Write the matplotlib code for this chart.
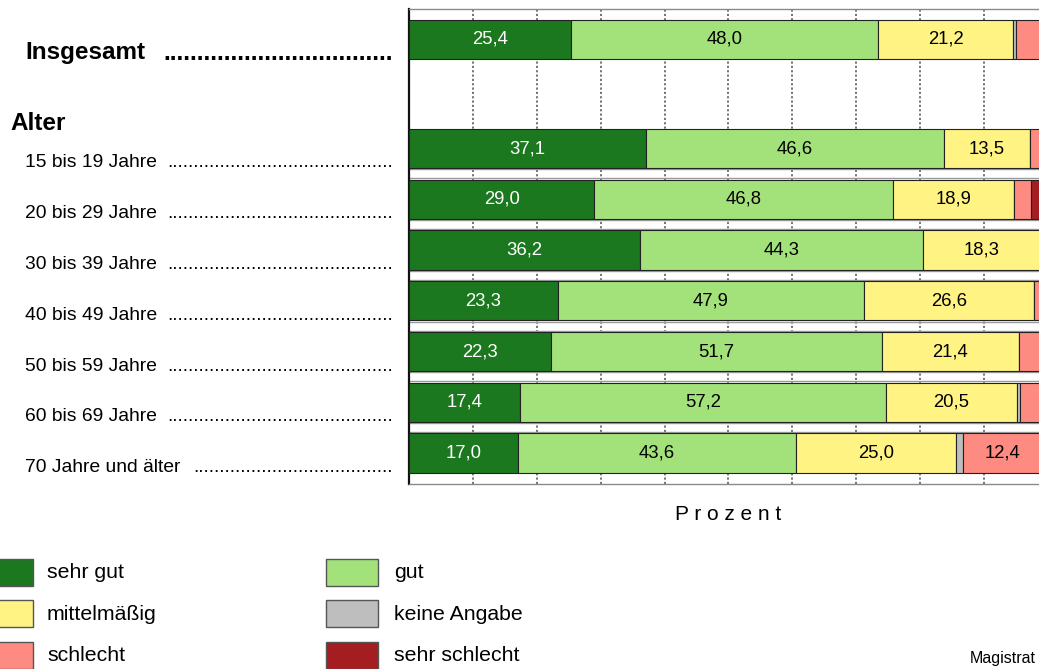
import matplotlib
matplotlib.use('Agg')
import matplotlib.pyplot as plt
from matplotlib.patches import Rectangle

plt.rcParams['font.family'] = ['Liberation Sans', 'DejaVu Sans']

# --- data -------------------------------------------------------------
groups = ['Insgesamt', '15 bis 19 Jahre', '20 bis 29 Jahre', '30 bis 39 Jahre',
          '40 bis 49 Jahre', '50 bis 59 Jahre', '60 bis 69 Jahre',
          '70 Jahre und älter']
categories = ['sehr gut', 'gut', 'mittelmäßig', 'keine Angabe',
              'schlecht', 'sehr schlecht']
sehr_gut = [25.4, 37.1, 29.0, 36.2, 23.3, 22.3, 17.4, 17.0]
gut = [48.0, 46.6, 46.8, 44.3, 47.9, 51.7, 57.2, 43.6]
mittelmaessig = [21.2, 13.5, 18.9, 18.3, 26.6, 21.4, 20.5, 25.0]
keine_angabe = [0.4, 0.0, 0.0, 0.0, 0.0, 0.0, 0.5, 1.1]
schlecht = [4.0, 2.2, 2.6, 1.0, 2.0, 4.0, 4.0, 12.4]
sehr_schlecht = [1.0, 0.6, 2.7, 0.2, 0.2, 0.6, 0.4, 0.9]

series = [sehr_gut, gut, mittelmaessig, keine_angabe, schlecht, sehr_schlecht]
colors = ['#1b781e', '#a3e27a', '#fff383', '#bebebe', '#fd8b82', '#a31d21']
text_colors = ['white', 'black', 'black', 'black', 'black', 'black']

# --- figure geometry (pixels) ------------------------------------------
W, H = 1039, 669
DPI = 100
fig = plt.figure(figsize=(W / DPI, H / DPI), dpi=DPI)


def fx(px):
    return px / W


def fy(py):
    return 1 - py / H


ax_left, ax_right, ax_top, ax_bottom = 409, 1048, 9, 484
ax = fig.add_axes([fx(ax_left), fy(ax_bottom), fx(ax_right - ax_left),
                   (ax_bottom - ax_top) / H])

row_px = 50.75
ypos = [0.0] + [2.148 + i for i in range(len(groups) - 1)]
bar_h = 0.77

left = [0.0] * len(groups)
for vals, col, tcol in zip(series, colors, text_colors):
    cont = ax.barh(ypos, vals, left=left, height=bar_h, color=col,
                   edgecolor='#222222', linewidth=0.8, zorder=3)
    labels = [f'{v:.1f}'.replace('.', ',') if v >= 5 else '' for v in vals]
    ax.bar_label(cont, labels=labels, label_type='center', color=tcol,
                 fontsize=13.3)
    left = [a + b for a, b in zip(left, vals)]

top_lim = 30.5 / row_px
ax.set_ylim((ax_bottom - ax_top) / row_px - top_lim, -top_lim)
ax.set_xlim(0, 100)

# separators between the age rows
off = 1.3 / row_px
for i in range(1, len(ypos) - 1):
    lo = ypos[i] + bar_h / 2 + off
    hi = ypos[i + 1] - bar_h / 2 - off
    ax.axhline(lo, color='#9a9a9a', lw=1.0, zorder=2)
    ax.axhline(hi, color='#9a9a9a', lw=1.0, zorder=2)

ax.set_xticks(range(0, 101, 10))
ax.grid(axis='x', color='#6a6a6a', linestyle=(0, (1.2, 1.2)), lw=1.3,
        zorder=1)
ax.set_axisbelow(True)
ax.tick_params(length=0, labelbottom=False, labelleft=False)
ax.spines['left'].set_color('#111111')
ax.spines['left'].set_linewidth(1.6)
for s in ('top', 'bottom'):
    ax.spines[s].set_color('#8a8a8a')
    ax.spines[s].set_linewidth(1.0)
ax.spines['right'].set_visible(False)

# --- row labels with dotted leaders ------------------------------------
leader_end = 393
row_texts = []
t = fig.text(fx(25), fy(59.5), groups[0], fontsize=17.5, fontweight='bold',
             va='baseline', ha='left')
row_texts.append((t, 59.5, 'bold', 17.5, 14))
fig.text(fx(10), fy(129.5), 'Alter', fontsize=17.5, fontweight='bold',
         va='baseline', ha='left')
for i, g in enumerate(groups[1:]):
    base = 167.3 + 50.8 * i
    t = fig.text(fx(25), fy(base), g, fontsize=13.9, va='baseline',
                 ha='left')
    row_texts.append((t, base, 'normal', 13.9, 9))

fig.canvas.draw()
renderer = fig.canvas.get_renderer()
for t, base, weight, size, gap in row_texts:
    probe = fig.text(0, 0, '.' * 20, fontsize=size, fontweight=weight)
    pw = probe.get_window_extent(renderer).width / 20
    probe.remove()
    end = t.get_window_extent(renderer).x1
    n = int((leader_end - end - gap) / pw)
    fig.text(fx(leader_end), fy(base), '.' * n, fontsize=size,
             fontweight=weight, va='baseline', ha='right')

# --- axis caption -------------------------------------------------------
fig.text(fx((ax_left + ax_right) / 2), fy(515), 'P r o z e n t',
         fontsize=15, ha='center', va='center')

# --- legend -------------------------------------------------------------
legend_cols = [(-19, 47), (326, 394)]
legend_rows = [558.5, 600.2, 641.9]
order = [0, 2, 4, 1, 3, 5]
for k, idx in enumerate(order):
    cx, tx = legend_cols[k // 3]
    ry = legend_rows[k % 3]
    fig.patches.append(Rectangle((fx(cx), fy(ry + 27)), 52 / W, 27 / H,
                                 transform=fig.transFigure,
                                 facecolor=colors[idx], edgecolor='#555555',
                                 lw=1.0))
    fig.text(fx(tx), fy(ry + 14), categories[idx], fontsize=15.3,
             va='center', ha='left')

fig.text(fx(1036), fy(659), 'Magistrat', fontsize=11.5, ha='right',
         va='center')

fig.savefig('out.png', dpi=DPI)
